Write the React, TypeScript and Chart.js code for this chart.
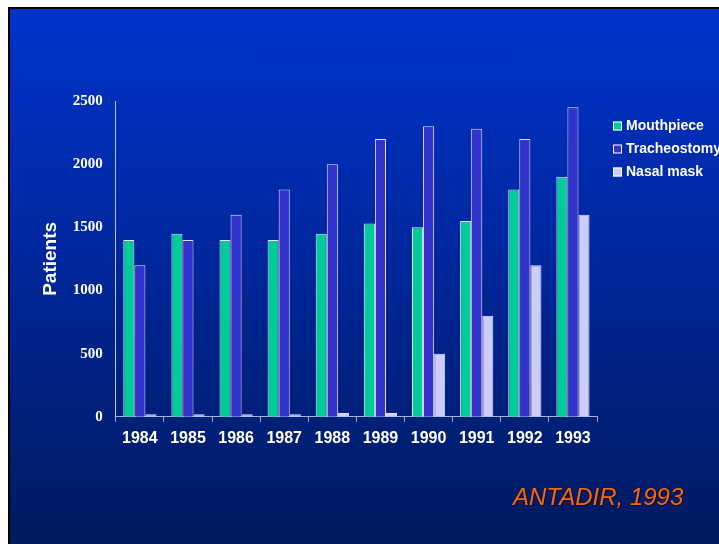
import React, { useEffect, useRef } from 'react';
import { Chart, registerables } from 'chart.js';

Chart.register(...registerables);

// ---- data ----
const years = ['1984', '1985', '1986', '1987', '1988', '1989', '1990', '1991', '1992', '1993'];
const mouthpiece = [1400, 1450, 1400, 1400, 1450, 1530, 1500, 1550, 1800, 1900];
const tracheostomy = [1200, 1400, 1600, 1800, 2000, 2200, 2300, 2280, 2200, 2450];
const nasalMask = [20, 20, 20, 20, 30, 30, 500, 800, 1200, 1600];
const seriesNames = ['Mouthpiece', 'Tracheostomy', 'Nasal mask'];
const seriesColors = ['#00cc99', '#3333cc', '#ccccff'];
const yMin = 0;
const yMax = 2500;
const yStep = 500;
const yTitle = 'Patients';
const sourceNote = 'ANTADIR, 1993';

const sansFamily = '"Liberation Sans", Arial, Helvetica, sans-serif';
const serifFamily = '"Liberation Serif", "Times New Roman", Times, serif';

const sideLegend = {
  id: 'sideLegend',
  afterDraw(chart: any) {
    const { ctx, chartArea } = chart;
    ctx.save();
    ctx.font = `bold 14px ${sansFamily}`;
    ctx.textBaseline = 'middle';
    ctx.textAlign = 'left';
    chart.data.datasets.forEach((ds: any, i: number) => {
      const x = chartArea.right + 16;
      const cy = chartArea.top + 25 + i * 23;
      ctx.fillStyle = ds.backgroundColor;
      ctx.fillRect(x, cy - 4.5, 9, 9);
      ctx.strokeStyle = '#ffffff';
      ctx.lineWidth = 1;
      ctx.strokeRect(x + 0.5, cy - 4, 8, 8);
      ctx.fillStyle = '#ffffff';
      ctx.fillText(ds.label, x + 13, cy);
    });
    ctx.restore();
  },
};

function BarChart() {
  const ref = useRef<HTMLCanvasElement | null>(null);
  useEffect(() => {
    if (!ref.current) return;
    const series = [mouthpiece, tracheostomy, nasalMask];
    const chart = new Chart(ref.current, {
      type: 'bar',
      data: {
        labels: years,
        datasets: series.map((values, i) => ({
          label: seriesNames[i],
          data: values,
          backgroundColor: seriesColors[i],
          borderColor: '#e2e2f4',
          borderWidth: 1,
          categoryPercentage: 0.69,
          barPercentage: 1,
        })),
      },
      options: {
        animation: false,
        responsive: false,
        devicePixelRatio: 1,
        layout: { padding: { left: 19, top: 92, right: 123, bottom: 89 } },
        plugins: {
          legend: { display: false },
          tooltip: { enabled: false },
        },
        scales: {
          x: {
            offset: true,
            grid: {
              display: true,
              offset: true,
              drawOnChartArea: false,
              drawTicks: true,
              tickLength: 5,
              color: '#a8aed8',
            },
            border: { display: true, color: '#a8aed8', width: 1 },
            ticks: {
              color: '#ffffff',
              padding: 7,
              font: { family: sansFamily, size: 16, weight: 'bold' },
            },
          },
          y: {
            min: yMin,
            max: yMax,
            grid: { display: false, drawTicks: false },
            border: { display: true, color: '#c0c4e4', width: 1 },
            ticks: {
              stepSize: yStep,
              color: '#ffffff',
              padding: 13,
              font: { family: serifFamily, size: 15, weight: 'bold' },
              callback: (v: any) => String(v),
            },
            title: {
              display: true,
              text: yTitle,
              color: '#ffffff',
              padding: { top: 10, bottom: -2 },
              font: { family: sansFamily, size: 19, weight: 'bold' },
            },
          },
        },
      },
      plugins: [sideLegend],
    });
    return () => chart.destroy();
  }, []);
  return (
    <canvas
      ref={ref}
      width={710}
      height={535}
      style={{ position: 'absolute', left: 0, top: 0, width: 710, height: 535, display: 'block' }}
    />
  );
}

export default function App() {
  return (
    <div
      style={{
        position: 'fixed',
        left: 8,
        top: 7,
        right: 0,
        bottom: 0,
        borderLeft: '2px solid #000',
        borderTop: '2px solid #000',
        background: 'linear-gradient(to bottom, #0033cc 0%, #00279e 45%, #001a5e 100%)',
        overflow: 'hidden',
      }}
    >
      <BarChart />
      <div
        style={{
          position: 'absolute',
          left: 503,
          top: 476,
          fontFamily: sansFamily,
          fontStyle: 'italic',
          fontSize: 24,
          lineHeight: '24px',
          color: '#ff6600',
          whiteSpace: 'nowrap',
          textShadow: '1px 1px 1px rgba(0,0,40,0.6)',
        }}
      >
        {sourceNote}
      </div>
    </div>
  );
}
